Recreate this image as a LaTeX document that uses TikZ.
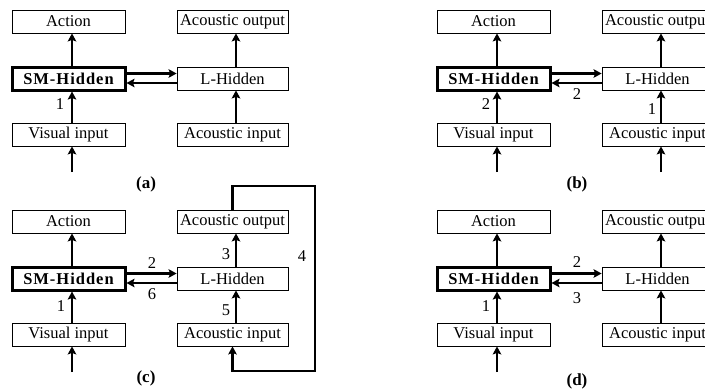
\documentclass[tikz,border=0pt]{standalone}
\usepackage{fontspec}
\setmainfont{Liberation Serif}
\usetikzlibrary{arrows.meta}
\begin{document}
\begin{tikzpicture}[x=1pt,y=-1pt,
  box/.style={draw,line width=0.8pt,rectangle,inner sep=0pt,minimum height=23pt,
    font=\fontsize{16.5}{18}\selectfont},
  lbox/.style={box,minimum width=113pt},
  rbox/.style={box,minimum width=111pt},
  smbox/.style={lbox,line width=3pt,font=\fontsize{16.5}{18}\selectfont\bfseries\addfontfeature{LetterSpace=6}},
  arr/.style={line width=2.6pt,-{Stealth[length=8pt,width=8.5pt,inset=1.5pt]}},
  harr/.style={line width=2.3pt,-{Stealth[length=8pt,width=8.5pt,inset=1.5pt]}},
  num/.style={font=\fontsize{16.5}{18}\selectfont,inner sep=0pt},
  plabel/.style={font=\fontsize{17}{18}\selectfont\bfseries,inner sep=0pt}]
\useasboundingbox (0,0) rectangle (705,391);
\clip (0,0) rectangle (705,391);
\foreach \p/\dx/\dy in {a/0/0,b/425/0,c/0/200,d/425/200}{
  \begin{scope}[shift={(\dx,\dy)}]
    \node[lbox] (\p-act) at (68.5,21.5) {Action};
    \node[smbox] (\p-sm) at (68.5,78.5) {SM-Hidden};
    \node[lbox] (\p-vis) at (68.5,134.5) {Visual input};
    \node[rbox] (\p-aout) at (232.5,21.5) {Acoustic output};
    \node[rbox] (\p-lh) at (232.5,78.5) {L-Hidden};
    \node[rbox] (\p-ain) at (232.5,134.5) {Acoustic input};
    \coordinate (\p-vsrc) at (72,172);
    \coordinate (\p-asrc) at (236,172);
  \end{scope}
  \draw[arr] ([xshift=3.5pt]\p-sm.north) -- ([xshift=3.5pt]\p-act.south);
  \draw[arr] ([xshift=3.5pt]\p-vis.north) -- ([xshift=3.5pt]\p-sm.south);
  \draw[arr] (\p-vsrc) -- (\p-vis.south -| \p-vsrc);
  \draw[arr] ([xshift=3.5pt]\p-lh.north) -- ([xshift=3.5pt]\p-aout.south);
  \draw[arr] ([xshift=3.5pt]\p-ain.north) -- ([xshift=3.5pt]\p-lh.south);
  \draw[harr] ([yshift=5pt]\p-sm.east) -- ([yshift=5pt]\p-sm.east -| \p-lh.west);
  \draw[harr] ([yshift=-4.5pt]\p-lh.west) -- ([yshift=-4.5pt]\p-lh.west -| \p-sm.east);
}
% (b) extra input arrow
\draw[arr] (b-asrc) -- (b-ain.south -| b-asrc);
% (c) loop
\coordinate (c-tr) at (315,186);
\coordinate (c-br) at (315,371);
\draw[arr,line cap=butt] (c-aout.north) |- (c-tr) -- (c-br) -| (c-ain.south);
% numbers
\node[num] (na1) at (60,104) {1};
\node[num] (nb2a) at (486,104) {2};
\node[num] (nb2b) at (577,94) {2};
\node[num] (nb1) at (652,109) {1};
\node[num] (nc2) at (152,263) {2};
\node[num] (nc6) at (152,294) {6};
\node[num] (nc1) at (61,306) {1};
\node[num] (nc3) at (226,254) {3};
\node[num] (nc5) at (226,310) {5};
\node[num] (nc4) at (302,256) {4};
\node[num] (nd2) at (577,262) {2};
\node[num] (nd3) at (577,298) {3};
\node[num] (nd1) at (486,306) {1};
% panel labels
\node[plabel] (la) at (146,184) {(a)};
\node[plabel] (lb) at (577,184) {(b)};
\node[plabel] (lc) at (146,378) {(c)};
\node[plabel] (ld) at (577,381) {(d)};
\end{tikzpicture}
\end{document}
